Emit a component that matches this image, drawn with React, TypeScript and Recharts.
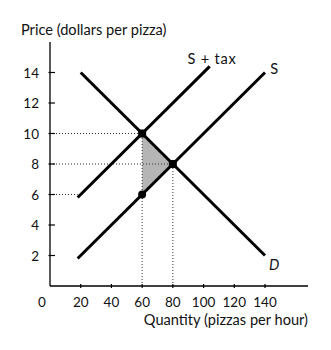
import { ComposedChart, Line, Area, Scatter, XAxis, YAxis, ReferenceLine, Label } from "recharts";

// curve end points (quantity, price)
const demand = [
  { q: 20, p: 14 },
  { q: 140, p: 2 },
];
const supply = [
  { q: 18, p: 1.8 },
  { q: 140, p: 14 },
];
const supplyTax = [
  { q: 18, p: 5.8 },
  { q: 104, p: 14.4 },
];

// deadweight loss triangle as a range area
const lossArea = [
  { q: 60, range: [6, 10] },
  { q: 80, range: [8, 8] },
];

const markers = [
  { q: 60, p: 10, kind: "square" },
  { q: 80, p: 8, kind: "square" },
  { q: 60, p: 6, kind: "circle" },
];

// dotted guide segments
const guides = [
  [{ x: 0, y: 10 }, { x: 60, y: 10 }],
  [{ x: 0, y: 8 }, { x: 80, y: 8 }],
  [{ x: 0, y: 6 }, { x: 18, y: 6 }],
  [{ x: 60, y: 0 }, { x: 60, y: 10 }],
  [{ x: 80, y: 0 }, { x: 80, y: 8 }],
];

const xTicks = [0, 20, 40, 60, 80, 100, 120, 140];
const yTicks = [2, 4, 6, 8, 10, 12, 14];

const curveLabels = [
  { text: "S + tax", q: 105.5, p: 14.9, italic: false },
  { text: "S", q: 146, p: 14.2, italic: false },
  { text: "D", q: 146, p: 1.4, italic: true },
];

const font = "Lato, 'Noto Sans', sans-serif";

const YTick = (props: any) => {
  const { x, y, payload } = props;
  return (
    <g>
      <line x1={x + 9.5} x2={x + 16} y1={y} y2={y} stroke="#000" strokeWidth={1.2} />
      <text x={x} y={y} dy={5} textAnchor="end" fontSize={13.5} fontFamily={font} fill="#111">
        {payload.value}
      </text>
    </g>
  );
};

const XTick = (props: any) => {
  const { x, y, payload } = props;
  const zero = payload.value === 0;
  return (
    <g>
      {!zero && <line x1={x} x2={x} y1={y - 4} y2={y} stroke="#000" strokeWidth={1.2} />}
      <text x={zero ? x - 8 : x} y={y} dy={19} textAnchor="middle" fontSize={13.5} fontFamily={font} fill="#111">
        {payload.value}
      </text>
    </g>
  );
};

const Marker = (props: any) => {
  const { cx, cy, payload } = props;
  if (payload.kind === "circle") return <circle cx={cx} cy={cy} r={4} fill="#000" />;
  return <rect x={cx - 4} y={cy - 4} width={8} height={8} rx={2} fill="#000" />;
};

export default function App() {
  return (
    <div style={{ position: "absolute", left: 0, top: 0, background: "#fff" }}>
      <ComposedChart width={331} height={350} margin={{ top: 42, right: 23, bottom: 0, left: 0 }}>
        <XAxis
          type="number"
          dataKey="q"
          domain={[0, 168]}
          ticks={xTicks}
          tick={<XTick />}
          tickLine={false}
          tickSize={0}
          height={64}
          axisLine={{ stroke: "#000", strokeWidth: 1.3 }}
          allowDataOverflow
        >
          <Label
            content={() => (
              <text x={308} y={324.5} textAnchor="end" fontSize={14.6} fontFamily={font} fill="#111">
                Quantity (pizzas per hour)
              </text>
            )}
          />
        </XAxis>
        <YAxis
          type="number"
          domain={[0, 16]}
          ticks={yTicks}
          tick={<YTick />}
          tickLine={false}
          tickSize={0}
          tickMargin={11}
          width={50}
          axisLine={{ stroke: "#000", strokeWidth: 1.3 }}
          allowDataOverflow
        >
          <Label
            content={() => (
              <text x={21} y={35} textAnchor="start" fontSize={14.6} fontFamily={font} fill="#111">
                Price (dollars per pizza)
              </text>
            )}
          />
        </YAxis>
        <Area
          data={lossArea}
          dataKey="range"
          type="linear"
          stroke="none"
          fill="#b5b5b5"
          fillOpacity={1}
          isAnimationActive={false}
        />
        {guides.map((seg, i) => (
          <ReferenceLine key={i} segment={seg} stroke="#333" strokeWidth={1} strokeDasharray="1 2" />
        ))}
        <Line data={demand} dataKey="p" type="linear" stroke="#000" strokeWidth={3} dot={false} isAnimationActive={false} />
        <Line data={supply} dataKey="p" type="linear" stroke="#000" strokeWidth={3} dot={false} isAnimationActive={false} />
        <Line data={supplyTax} dataKey="p" type="linear" stroke="#000" strokeWidth={3} dot={false} isAnimationActive={false} />
        <Scatter data={markers} dataKey="p" shape={<Marker />} isAnimationActive={false} />
        {curveLabels.map((l) => (
          <ReferenceLine
            key={l.text}
            segment={[{ x: l.q, y: l.p }, { x: l.q, y: l.p }]}
            stroke="none"
            label={(props: any) => {
              const vb = props.viewBox || {};
              return (
                <text
                  x={vb.x}
                  y={vb.y}
                  dy={5}
                  textAnchor="middle"
                  fontSize={14.6}
                  letterSpacing={l.text.length > 1 ? 0.8 : 0}
                  fontStyle={l.italic ? "italic" : "normal"}
                  fontFamily={font}
                  fill="#111"
                >
                  {l.text}
                </text>
              );
            }}
          />
        ))}
      </ComposedChart>
    </div>
  );
}
